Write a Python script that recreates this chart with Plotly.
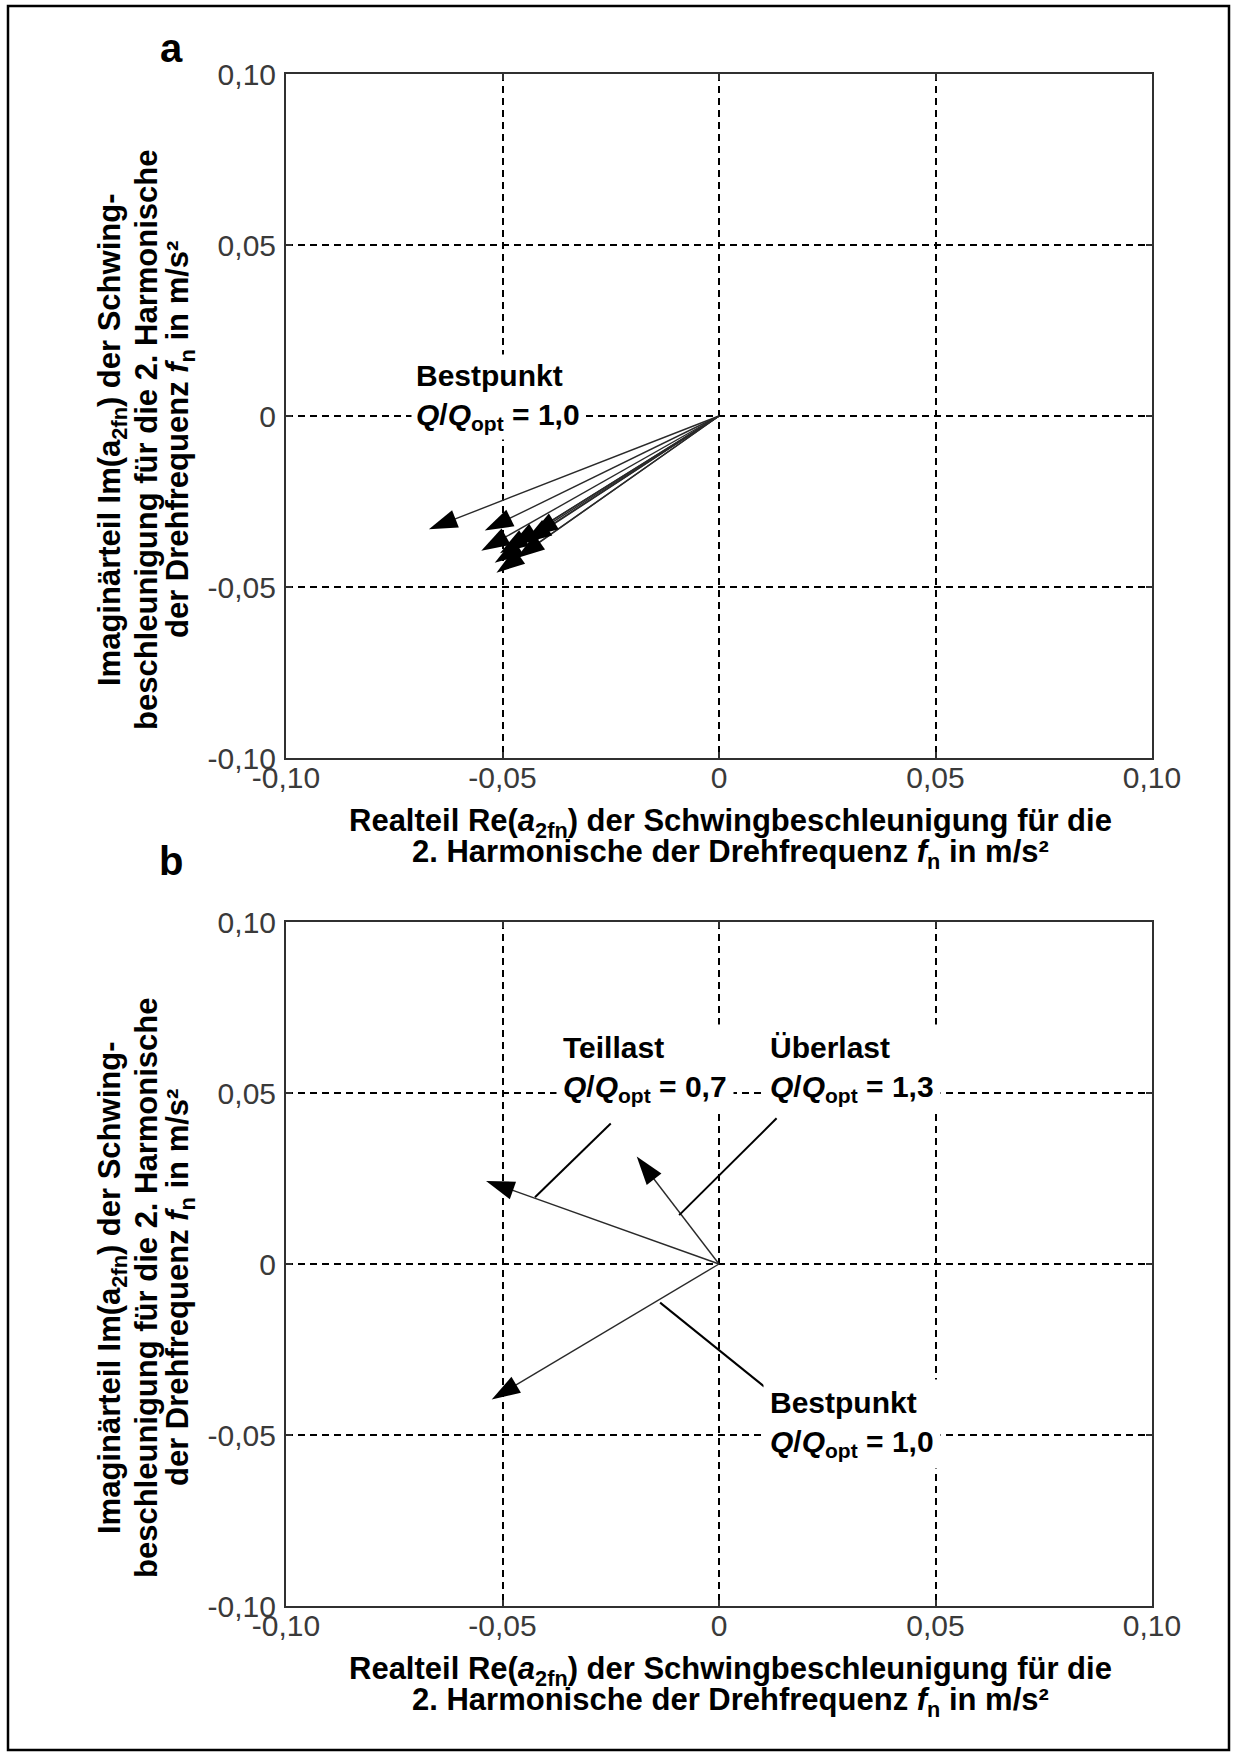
import plotly.graph_objects as go

# ---- data -------------------------------------------------------------
# (a) 2nd-harmonic vibration acceleration vectors at the best efficiency point
bep_re = [-0.0670, -0.0541, -0.0549, -0.0518, -0.0514, -0.0506, -0.0483, -0.0468, -0.0452, -0.0437]
bep_im = [-0.0331, -0.0335, -0.0394, -0.0429, -0.0458, -0.0401, -0.0382, -0.0416, -0.0372, -0.0353]

# (b) one vector per operating point
op_names = ["Teillast", "Überlast", "Bestpunkt"]
op_q = ["0,7", "1,3", "1,0"]
op_re = [-0.0538, -0.0190, -0.0525]
op_im = [0.0243, 0.0314, -0.0396]

# label anchor (left, middle) and leader line (text end -> shaft) per operating point
op_label_x = [-0.0376, 0.0101, 0.0101]
op_label_y = [0.0570, 0.0570, -0.0468]
op_lead_x0 = [-0.0250, 0.0133, 0.0108]
op_lead_y0 = [0.0411, 0.0426, -0.0362]
op_lead_x1 = [-0.0425, -0.0092, -0.0136]
op_lead_y1 = [0.0195, 0.0143, -0.0113]

tick_vals = [-0.10, -0.05, 0, 0.05, 0.10]
tick_text = ["-0,10", "-0,05", "0", "0,05", "0,10"]

# ---- layout geometry (pixels) ----------------------------------------
W, H = 1236, 1755
PX0, PX1 = 286, 1152
PANELS = [(74, 758), (922, 1606)]


def fx(px):
    return px / W


def fy(py):
    return 1 - py / H


TICK_FONT = dict(family="Liberation Sans, Arial, sans-serif", size=30, color="#3a3a3a")
BOLD = dict(family="Liberation Sans, Arial, sans-serif", size=30, color="black", weight="bold")
TITLE = dict(BOLD, size=31)

fig = go.Figure()


def add_vector(re, im, xa, ya):
    fig.add_trace(go.Scatter(
        x=[0, re], y=[0, im], xaxis=xa, yaxis=ya,
        mode="lines+markers",
        line=dict(color="#2a2a2a", width=1.4),
        marker=dict(symbol="arrow", size=[0, 30], angleref="previous",
                    color="black", opacity=1, line=dict(width=0)),
        hoverinfo="skip", showlegend=False,
    ))


for re, im in zip(bep_re, bep_im):
    add_vector(re, im, "x", "y")
for re, im in zip(op_re, op_im):
    add_vector(re, im, "x2", "y2")

axis_common = dict(
    range=[-0.1, 0.1], tickvals=tick_vals, ticktext=tick_text, automargin=False,
    showline=True, mirror="ticks", linecolor="#303030", linewidth=2,
    ticks="inside", ticklen=6, tickcolor="#303030", tickwidth=1.5,
    showgrid=True, gridcolor="black", gridwidth=1.5, griddash="7px,5px",
    zeroline=False, tickfont=TICK_FONT, fixedrange=True,
)

fig.update_layout(
    width=W, height=H,
    margin=dict(l=0, r=0, t=0, b=0, pad=0, autoexpand=False),
    paper_bgcolor="white", plot_bgcolor="white",
    showlegend=False,
    xaxis=dict(domain=[fx(PX0), fx(PX1)], anchor="y", ticklabelstandoff=-8, **axis_common),
    yaxis=dict(domain=[fy(PANELS[0][1]), fy(PANELS[0][0])], anchor="x", ticklabelstandoff=2, **axis_common),
    xaxis2=dict(domain=[fx(PX0), fx(PX1)], anchor="y2", ticklabelstandoff=-8, **axis_common),
    yaxis2=dict(domain=[fy(PANELS[1][1]), fy(PANELS[1][0])], anchor="x2", ticklabelstandoff=2, **axis_common),
)

annotations = []
shapes = []

x_title = [
    "Realteil Re(<i>a</i><sub>2fn</sub>) der Schwingbeschleunigung für die",
    "2. Harmonische der Drehfrequenz <i>f</i><sub>n</sub> in m/s²",
]
y_title = [
    "Imaginärteil Im(a<sub>2fn</sub>) der Schwing-",
    "beschleunigung für die 2. Harmonische",
    "der Drehfrequenz <i>f</i><sub>n</sub> in m/s²",
]

for i, (top, bottom) in enumerate(PANELS):
    # panel letter
    annotations.append(dict(
        text="ab"[i], x=fx(171), y=fy(top - 26 if i == 0 else top - 61),
        xref="paper", yref="paper", xanchor="center", yanchor="middle",
        showarrow=False, font=dict(BOLD, size=40),
    ))
    # x-axis title, one annotation per line
    for k, line in enumerate(x_title):
        annotations.append(dict(
            text=line, x=fx(730), y=fy(bottom + 65 + 31 * k),
            xref="paper", yref="paper", xanchor="center", yanchor="middle",
            showarrow=False, font=TITLE,
        ))
    # y-axis title, rotated lines
    for k, line in enumerate(y_title):
        annotations.append(dict(
            text=line, x=fx(112 + 34 * k), y=fy(top + 366),
            xref="paper", yref="paper", xanchor="center", yanchor="middle",
            textangle=-90, showarrow=False, font=TITLE,
        ))


def q_label(name, q):
    return f"{name}<br><i>Q</i>/<i>Q</i><sub>opt</sub> = {q}"


# panel a label
annotations.append(dict(
    text=q_label("Bestpunkt", "1,0"), x=-0.0712, y=0.0056,
    xref="x", yref="y", xanchor="left", yanchor="middle", align="left",
    showarrow=False, font=BOLD, bgcolor="white", borderpad=4,
))

# panel b labels with leader lines
for name, q, lx, ly, x0, y0, x1, y1 in zip(op_names, op_q, op_label_x, op_label_y,
                                           op_lead_x0, op_lead_y0, op_lead_x1, op_lead_y1):
    annotations.append(dict(
        text=q_label(name, q), x=lx, y=ly,
        xref="x2", yref="y2", xanchor="left", yanchor="middle", align="left",
        showarrow=False, font=BOLD, bgcolor="white", borderpad=6,
    ))
    shapes.append(dict(
        type="line", xref="x2", yref="y2", x0=x0, y0=y0, x1=x1, y1=y1,
        line=dict(color="black", width=2),
    ))

# outer frame
shapes.append(dict(
    type="rect", xref="paper", yref="paper",
    x0=fx(8), x1=fx(1229), y0=fy(1750), y1=fy(6),
    line=dict(color="black", width=2.5), fillcolor="rgba(0,0,0,0)",
))

fig.update_layout(annotations=annotations, shapes=shapes)

fig.write_html("out.html")
